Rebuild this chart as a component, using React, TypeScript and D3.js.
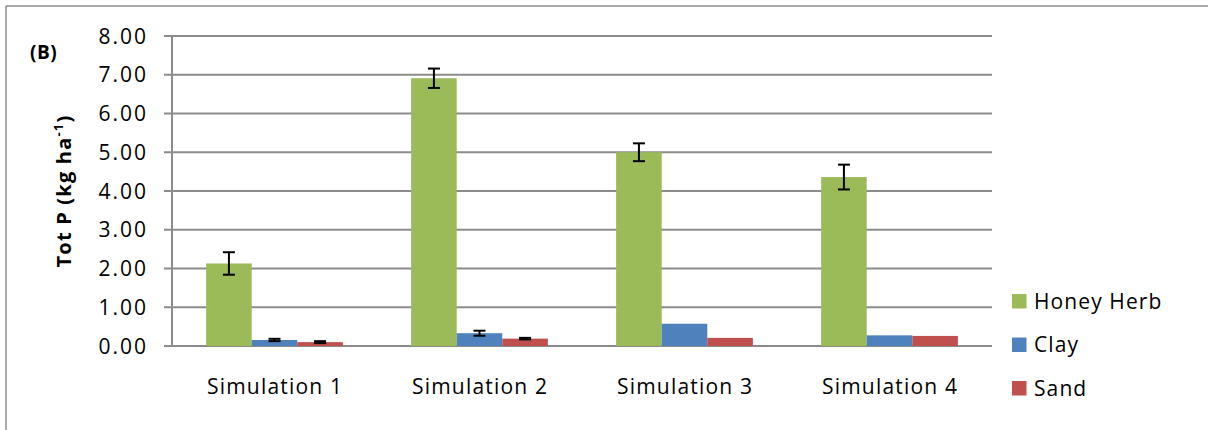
import * as d3 from "d3";
import React from "react";

const categories = ["Simulation 1", "Simulation 2", "Simulation 3", "Simulation 4"];
const seriesNames = ["Honey Herb", "Clay", "Sand"];
const honeyHerb = [2.13, 6.91, 5.0, 4.36];
const honeyHerbErr = [0.29, 0.25, 0.23, 0.32];
const clay = [0.155, 0.33, 0.575, 0.275];
const clayErr = [0.03, 0.065, 0, 0];
const sand = [0.1, 0.19, 0.21, 0.26];
const sandErr = [0.025, 0.02, 0, 0];
const yTicks = [0, 1, 2, 3, 4, 5, 6, 7, 8];

const colors = ["#9BBB59", "#4F81BD", "#C0504D"];
const values = [honeyHerb, clay, sand];
const errors = [honeyHerbErr, clayErr, sandErr];

const W = 1208;
const H = 430;
const left = 172;
const right = 992;
const top = 36;
const bottom = 346;
const font = "'Open Sans', sans-serif";

const App: React.FC = () => {
    const x0 = d3.scaleBand().domain(categories).range([left, right]).paddingInner(0.333).paddingOuter(0.1665);
    const x1 = d3.scaleBand().domain(seriesNames).range([0, x0.bandwidth()]);
    const y = d3.scaleLinear().domain([0, 8]).range([bottom, top]);

    return (
        <svg width={W} height={H} style={{ position: "absolute", left: 0, top: 0, background: "white" }}>
            <line x1={6} y1={6} x2={W} y2={6} stroke="#8c8c8c" strokeWidth={1.5} />
            <line x1={6} y1={6} x2={6} y2={H} stroke="#8c8c8c" strokeWidth={1.5} />

            <text x={30} y={59} fontFamily={font} fontWeight="bold" fontSize={19} letterSpacing={0.5}>(B)</text>

            {yTicks.map(t => (
                <g key={t}>
                    <line x1={left - 8} x2={right} y1={y(t)} y2={y(t)} stroke="#8c8c8c" strokeWidth={2} />
                    <text x={148} y={y(t) + 7.5} textAnchor="end" fontFamily={font} fontSize={21} letterSpacing={2}>
                        {t.toFixed(2)}
                    </text>
                </g>
            ))}
            <line x1={left} x2={left} y1={top} y2={bottom} stroke="#8c8c8c" strokeWidth={2} />

            <text transform={`translate(71, 191) rotate(-90)`} textAnchor="middle"
                fontFamily={font} fontWeight="bold" fontSize={20} letterSpacing={1.2}>
                Tot P (kg ha<tspan dy={-8} fontSize={13}>-1</tspan><tspan dy={8}>)</tspan>
            </text>

            {categories.map((c, i) => (
                <g key={c}>
                    {seriesNames.map((s, j) => {
                        const bx = x0(c)! + x1(s)!;
                        const v = values[j][i];
                        const e = errors[j][i];
                        const cx = bx + x1.bandwidth() / 2;
                        return (
                            <g key={s}>
                                <rect x={bx} y={y(v)} width={x1.bandwidth()} height={bottom - y(v)} fill={colors[j]} />
                                {e > 0 && (
                                    <g stroke="#000" strokeWidth={2}>
                                        <line x1={cx} x2={cx} y1={y(v + e)} y2={y(v - e)} />
                                        <line x1={cx - 6} x2={cx + 6} y1={y(v + e)} y2={y(v + e)} />
                                        <line x1={cx - 6} x2={cx + 6} y1={y(v - e)} y2={y(v - e)} />
                                    </g>
                                )}
                            </g>
                        );
                    })}
                    <text x={x0(c)! + x0.bandwidth() / 2 + 0.6} y={394} textAnchor="middle" fontFamily={font} fontSize={21} letterSpacing={1.2}>
                        {c}
                    </text>
                </g>
            ))}

            {seriesNames.map((s, j) => (
                <g key={s} transform={`translate(1012, ${301 + j * 43.5})`}>
                    <rect x={0} y={-7} width={14.5} height={14.5} fill={colors[j]} />
                    <text x={22} y={7.5} fontFamily={font} fontSize={21} letterSpacing={1.1}>{s}</text>
                </g>
            ))}
        </svg>
    );
};

export default App;
